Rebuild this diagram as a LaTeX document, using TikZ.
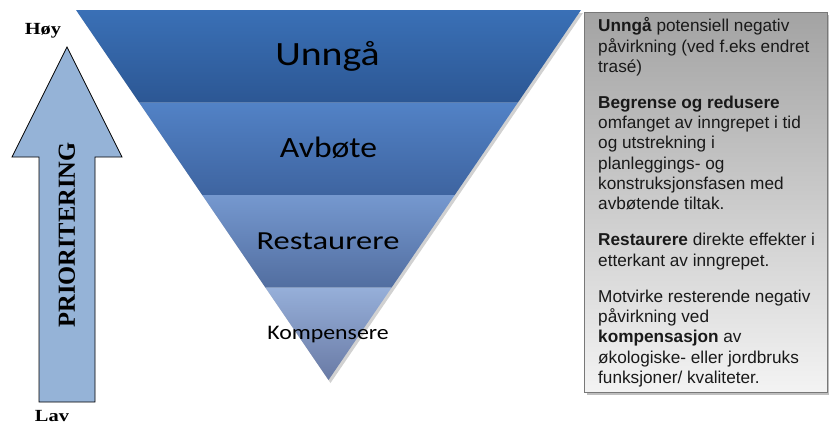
\documentclass[tikz,border=0pt]{standalone}
\usepackage{fontspec}
\setmainfont{Liberation Serif}
\newfontfamily\calibfont{Carlito}
\newfontfamily\arialfont{Liberation Sans}
\usetikzlibrary{calc}
\definecolor{bandAt}{RGB}{58,112,182}
\definecolor{bandAb}{RGB}{44,87,148}
\definecolor{bandBt}{RGB}{82,130,198}
\definecolor{bandBb}{RGB}{62,100,160}
\definecolor{bandCt}{RGB}{117,152,207}
\definecolor{bandCb}{RGB}{82,110,160}
\definecolor{bandDt}{RGB}{150,175,217}
\definecolor{bandDb}{RGB}{105,122,165}
\definecolor{arrowblue}{RGB}{149,179,215}
\definecolor{boxtop}{RGB}{163,163,163}
\definecolor{boxbot}{RGB}{243,243,243}
\definecolor{boxedge}{RGB}{120,120,120}
\tikzset{
  bandlabel/.style={anchor=base, inner sep=0pt, text=black},
  endlabel/.style={anchor=base, inner sep=0pt, font=\bfseries\fontsize{17}{19}\selectfont},
}
\begin{document}
\begin{tikzpicture}[x=1pt,y=-1pt]
\useasboundingbox (0,0) rectangle (829,426);
% triangle geometry
\coordinate (T1) at (76,10);
\coordinate (T2) at (581,10);
\coordinate (A) at (328.5,380);
\coordinate (L1) at ($(T1)!0.25!(A)$);
\coordinate (R1) at ($(T2)!0.25!(A)$);
\coordinate (L2) at ($(T1)!0.5!(A)$);
\coordinate (R2) at ($(T2)!0.5!(A)$);
\coordinate (L3) at ($(T1)!0.75!(A)$);
\coordinate (R3) at ($(T2)!0.75!(A)$);
% shadow
\fill[black, opacity=0.18] ([shift={(2,3)}]T1) -- ([shift={(2,3)}]T2) -- ([shift={(2,3)}]A) -- cycle;
% bands
\shade[top color=bandAt, bottom color=bandAb] (T1) -- (T2) -- (R1) -- (L1) -- cycle;
\shade[top color=bandBt, bottom color=bandBb] (L1) -- (R1) -- (R2) -- (L2) -- cycle;
\shade[top color=bandCt, bottom color=bandCb] (L2) -- (R2) -- (R3) -- (L3) -- cycle;
\shade[top color=bandDt, bottom color=bandDb] (L3) -- (R3) -- (A) -- cycle;
% band labels
\node[bandlabel, font=\calibfont\fontsize{34}{36}\selectfont] (unnga) at (327.5,65) {\scalebox{1.17}[1]{Unngå}};
\node[bandlabel, font=\calibfont\fontsize{29.5}{31}\selectfont] (avbote) at (328.5,157) {\scalebox{1.14}[1]{Avbøte}};
\node[bandlabel, font=\calibfont\fontsize{26}{28}\selectfont] (restaurere) at (328,249.3) {\scalebox{1.25}[1]{Restaurere}};
\node[bandlabel, font=\calibfont\fontsize{20.7}{22}\selectfont] (kompensere) at (328,339.3) {\scalebox{1.15}[1]{Kompensere}};
% priority arrow
\draw[fill=arrowblue, line width=0.8pt, line join=miter]
  (67,47) -- (122,157) -- (95,157) -- (95,402) -- (39,402) -- (39,157) -- (12,157) -- cycle;
\node[rotate=90, inner sep=0pt, font=\bfseries\fontsize{24.5}{26}\selectfont] (prio) at (67,235) {PRIORITERING};
\node[endlabel] (hoy) at (43,34) {\scalebox{1.2}[1]{Høy}};
\node[endlabel] (lav) at (52,421) {\scalebox{1.2}[1]{Lav}};
% text box
\fill[black, opacity=0.25] (587,15) rectangle (829,395);
\shade[top color=boxtop, bottom color=boxbot, draw=boxedge, line width=0.8pt] (584,12) rectangle (827,392);
\node[anchor=base west, inner sep=0pt, text=black!90, font=\arialfont\fontsize{17.2}{20.3}\selectfont] (txt) at (598,31.7)
{\vtop{\hsize=228pt\parindent=0pt\parskip=15.7pt\raggedright
\textbf{Unngå} potensiell negativ\\ påvirkning (ved f.eks endret\\ trasé)\par
\textbf{Begrense og redusere}\\ omfanget av inngrepet i tid\\ og utstrekning i\\ planleggings- og\\ konstruksjonsfasen med\\ avbøtende tiltak.\par
\textbf{Restaurere} direkte effekter i\\ etterkant av inngrepet.\par
Motvirke resterende negativ\\ påvirkning ved\\ \textbf{kompensasjon} av\\ økologiske- eller jordbruks\\ funksjoner/ kvaliteter.\par}};
\end{tikzpicture}
\end{document}
